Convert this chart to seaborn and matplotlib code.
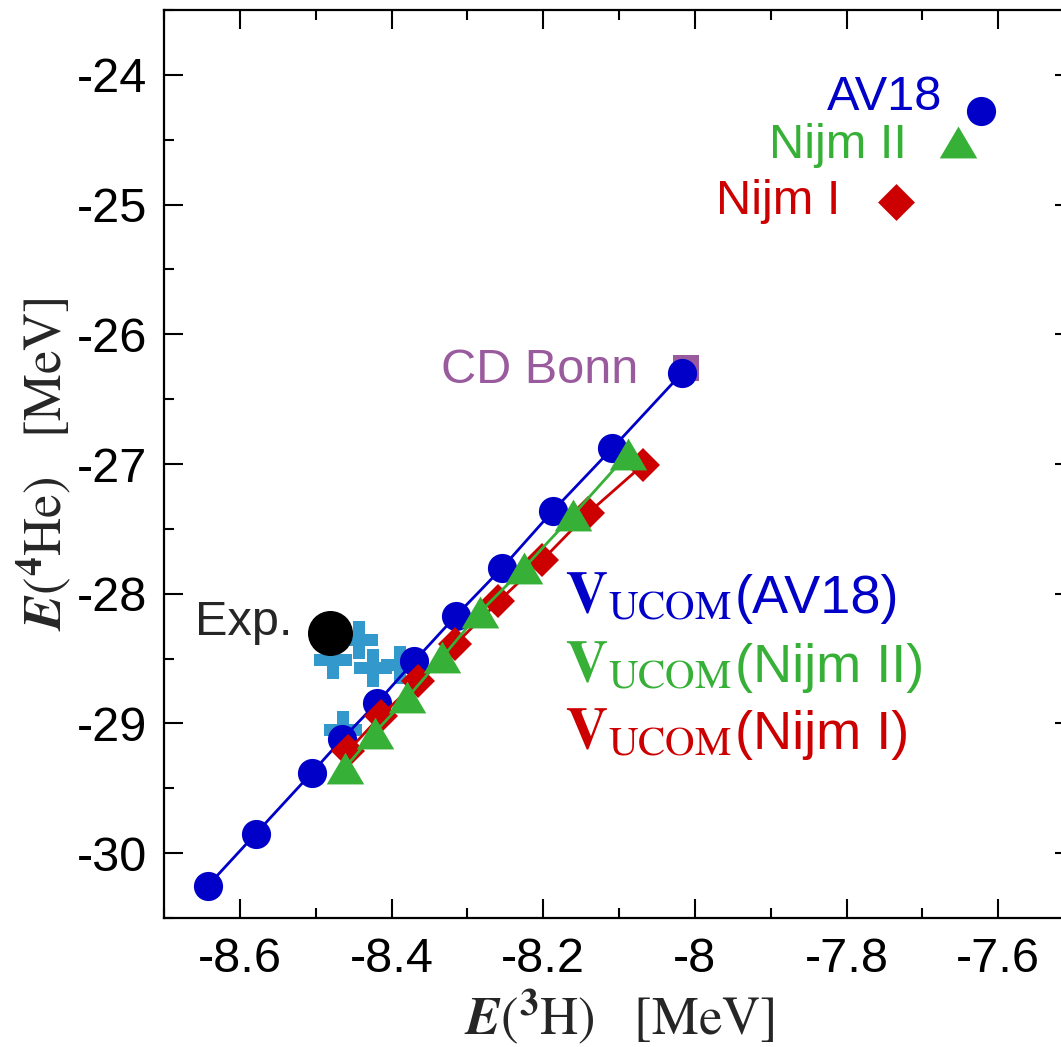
import matplotlib

matplotlib.use("Agg")
import matplotlib.pyplot as plt
import pandas as pd
import seaborn as sns
from matplotlib.ticker import FuncFormatter, MultipleLocator

# V_UCOM results: E(3H) vs E(4He) in MeV
av18_h3 = [-8.642, -8.579, -8.505, -8.465, -8.419, -8.370, -8.315, -8.254, -8.187, -8.109, -8.017]
av18_he4 = [-30.25, -29.85, -29.38, -29.12, -28.84, -28.52, -28.17, -27.80, -27.36, -26.88, -26.30]
nijm2_h3 = [-8.461, -8.422, -8.379, -8.333, -8.283, -8.225, -8.160, -8.088]
nijm2_he4 = [-29.34, -29.07, -28.80, -28.49, -28.14, -27.80, -27.39, -26.92]
nijm1_h3 = [-8.457, -8.414, -8.365, -8.316, -8.259, -8.201, -8.141, -8.069]
nijm1_he4 = [-29.21, -28.94, -28.67, -28.39, -28.06, -27.74, -27.38, -27.01]

# other calculations (crosses)
cross_h3 = [-8.477, -8.443, -8.424, -8.389, -8.464]
cross_he4 = [-28.51, -28.36, -28.57, -28.55, -29.05]

# bare potentials
bare_names = ["AV18", "Nijm II", "Nijm I", "CD Bonn"]
bare_h3 = [-7.622, -7.653, -7.735, -8.011]
bare_he4 = [-24.28, -24.52, -24.98, -26.26]

exp_h3 = [-8.481]
exp_he4 = [-28.30]

BLUE = "#0000c8"
GREEN = "#36b036"
RED = "#cc0000"
PURPLE = "#9a5a9e"
LIGHTBLUE = "#3399cc"

sns.set_style("ticks")
plt.rcParams["font.family"] = ["Liberation Sans", "DejaVu Sans"]
plt.rcParams["mathtext.fontset"] = "stix"
plt.rcParams["axes.unicode_minus"] = False

TRI = [(-1, -0.85), (1, -0.85), (0, 0.85)]

fig = plt.figure(figsize=(10.61, 10.47), dpi=100)
ax = fig.add_axes([164 / 1061, 129 / 1047, 910 / 1061, 908 / 1047])

sns.scatterplot(x=cross_h3, y=cross_he4, marker="P", s=760, color=LIGHTBLUE,
                linewidth=0, ax=ax, zorder=2)

series = [
    (av18_h3, av18_he4, BLUE, "o", 21, 3),
    (nijm1_h3, nijm1_he4, RED, "D", 17.5, 4),
    (nijm2_h3, nijm2_he4, GREEN, TRI, 27, 5),
]
for xs, ys, col, mk, ms, z in series:
    df = pd.DataFrame({"h3": xs, "he4": ys})
    sns.lineplot(data=df, x="h3", y="he4", color=col, linewidth=2, marker=mk,
                 markersize=ms, markeredgewidth=0, ax=ax, zorder=z, sort=False)

bare_markers = ["o", TRI, "D", "s"]
bare_sizes = [441, 729, 353, 350]
bare_colors = [BLUE, GREEN, RED, PURPLE]
bare_zorder = [6, 6, 6, 2.5]
bare_offsets = [(-28, 1), (-37, -11), (-40, -9), (-35, -11)]
for name, x, y, mk, s, col, z, off in zip(bare_names, bare_h3, bare_he4, bare_markers,
                                          bare_sizes, bare_colors, bare_zorder, bare_offsets):
    sns.scatterplot(x=[x], y=[y], marker=mk, s=s, color=col, linewidth=0, ax=ax, zorder=z)
    ax.annotate(name, xy=(x, y), xytext=off, textcoords="offset points",
                ha="right", va="baseline", color=col, fontsize=35)

sns.scatterplot(x=exp_h3, y=exp_he4, marker="o", s=1050, color="black", linewidth=0,
                ax=ax, zorder=7)
ax.annotate("Exp.", xy=(exp_h3[0], exp_he4[0]), xytext=(-27, -1.5),
            textcoords="offset points", ha="right", va="baseline", fontsize=35)

# V_UCOM labels
ucom_labels = ["(AV18)", "(Nijm II)", "(Nijm I)"]
ucom_colors = [BLUE, GREEN, RED]
ucom_y = [0.336, 0.260, 0.186]
for lab, col, yy in zip(ucom_labels, ucom_colors, ucom_y):
    ax.text(0.4407, yy, r"$\mathbf{V}_{\mathrm{UCOM}}$", transform=ax.transAxes,
            color=col, fontsize=42, ha="left", va="baseline")
    ax.text(0.6275, yy, lab, transform=ax.transAxes, color=col, fontsize=39,
            ha="left", va="baseline")

ax.set_xlim(-8.7, -7.5)
ax.set_ylim(-30.5, -23.5)
ax.xaxis.set_major_locator(MultipleLocator(0.2))
ax.xaxis.set_minor_locator(MultipleLocator(0.1))
ax.yaxis.set_major_locator(MultipleLocator(1))
ax.yaxis.set_minor_locator(MultipleLocator(0.5))
fmt = FuncFormatter(lambda v, p: "%g" % round(v, 3))
ax.xaxis.set_major_formatter(fmt)
ax.yaxis.set_major_formatter(fmt)
ax.tick_params(which="both", direction="in", top=True, right=True, width=1.5,
               color="black", labelsize=35, labelcolor="black")
ax.tick_params(which="major", length=14, pad=12)
ax.tick_params(which="minor", length=7)
ax.tick_params(axis="x", which="major", pad=14)
for sp in ax.spines.values():
    sp.set_linewidth(1.6)
    sp.set_color("black")

ax.set_xlabel(r"$\mathbfit{E}(^{\mathbf{3}}\mathrm{H})\ \ \ [\mathrm{MeV}]$",
              fontsize=38, labelpad=4)
ax.set_ylabel(r"$\mathbfit{E}(^{\mathbf{4}}\mathrm{He})\ \ \ [\mathrm{MeV}]$",
              fontsize=38, labelpad=3)

fig.savefig("out.png", dpi=100)
